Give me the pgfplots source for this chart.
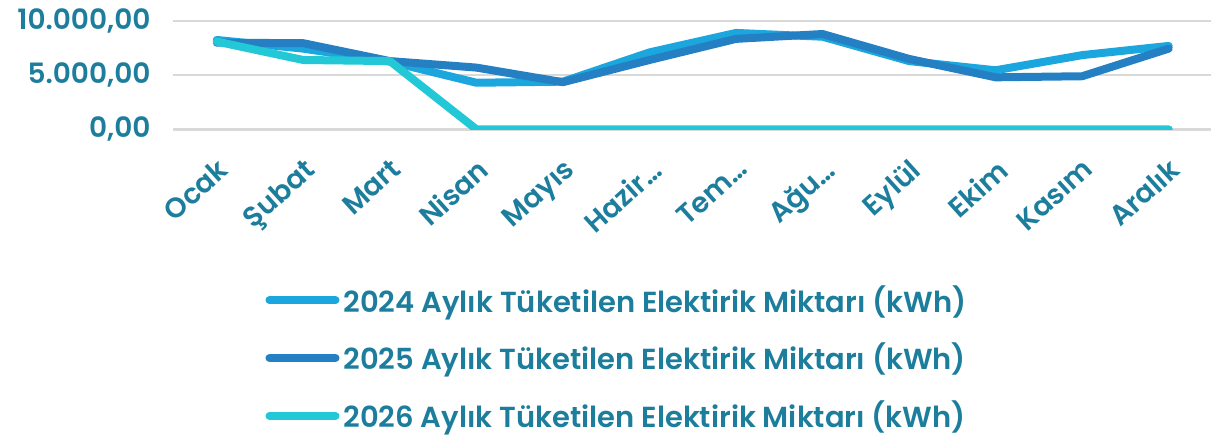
\documentclass[border=0pt]{standalone}
\usepackage{fontspec}
\setmainfont{Poppins}[BoldFont={Poppins SemiBold}]
\usepackage{pgfplots}
\pgfplotsset{compat=1.18}
\definecolor{tealtxt}{RGB}{28,126,156}
\definecolor{c24}{RGB}{27,166,222}
\definecolor{c25}{RGB}{37,128,195}
\definecolor{c26}{RGB}{34,200,214}
\definecolor{gridg}{RGB}{217,217,217}
\begin{document}
\begin{tikzpicture}
\begin{axis}[
  name=ax,
  scale only axis,
  width=519.25pt, height=54.15pt,
  xmin=-0.5, xmax=11.5,
  ymin=0, ymax=10000,
  scaled y ticks=false,
  axis line style={draw=none},
  major tick length=0pt,
  xtick={0,...,11},
  xticklabels={Ocak,Şubat,Mart,Nisan,Mayıs,Hazir…,Tem…,Ağu…,Eylül,Ekim,Kasım,Aralık},
  ytick={0,5000,10000},
  yticklabels={{0,00},{5.000,00},{10.000,00}},
  ymajorgrids,
  grid style={gridg, line width=1.3pt},
  tick label style={font=\fontsize{14}{16}\selectfont\bfseries, text=tealtxt},
  xticklabel style={xshift=0pt, yshift=-9pt, rotate=42, anchor=north east},
  yticklabel style={anchor=east, xshift=-8pt},
  legend style={draw=none, fill=none, at={(0.428,-1.40)}, anchor=north,
    font=\fontsize{14.5}{16}\selectfont\bfseries, text=tealtxt,
    row sep=10pt, legend cell align=left, inner sep=0pt},
  legend image code/.code={\draw[#1, line width=4pt, line cap=round] (0pt,0pt) -- (33pt,0pt);},
  every axis plot/.append style={line width=4pt, line join=round, line cap=round, mark=none},
]
\addplot[c24] coordinates {(0,8250) (1,7450) (2,6250) (3,4300) (4,4400) (5,7100) (6,8900) (7,8550) (8,6300) (9,5450) (10,6850) (11,7700)};
\addlegendentry{2024 Aylık Tüketilen Elektirik Miktarı (kWh)}
\addplot[c25] coordinates {(0,8000) (1,7950) (2,6300) (3,5700) (4,4350) (5,6400) (6,8350) (7,8800) (8,6500) (9,4800) (10,4900) (11,7450)};
\addlegendentry{2025 Aylık Tüketilen Elektirik Miktarı (kWh)}
\addplot[c26] coordinates {(0,8100) (1,6400) (2,6300) (3,0) (4,0) (5,0) (6,0) (7,0) (8,0) (9,0) (10,0) (11,0)};
\addlegendentry{2026 Aylık Tüketilen Elektirik Miktarı (kWh)}
\end{axis}
\pgfresetboundingbox
\path[use as bounding box] ([xshift=-86.75pt,yshift=-153.35pt]ax.south west) rectangle ([xshift=-0.5pt,yshift=10.5pt]ax.north east);
\end{tikzpicture}
\end{document}
